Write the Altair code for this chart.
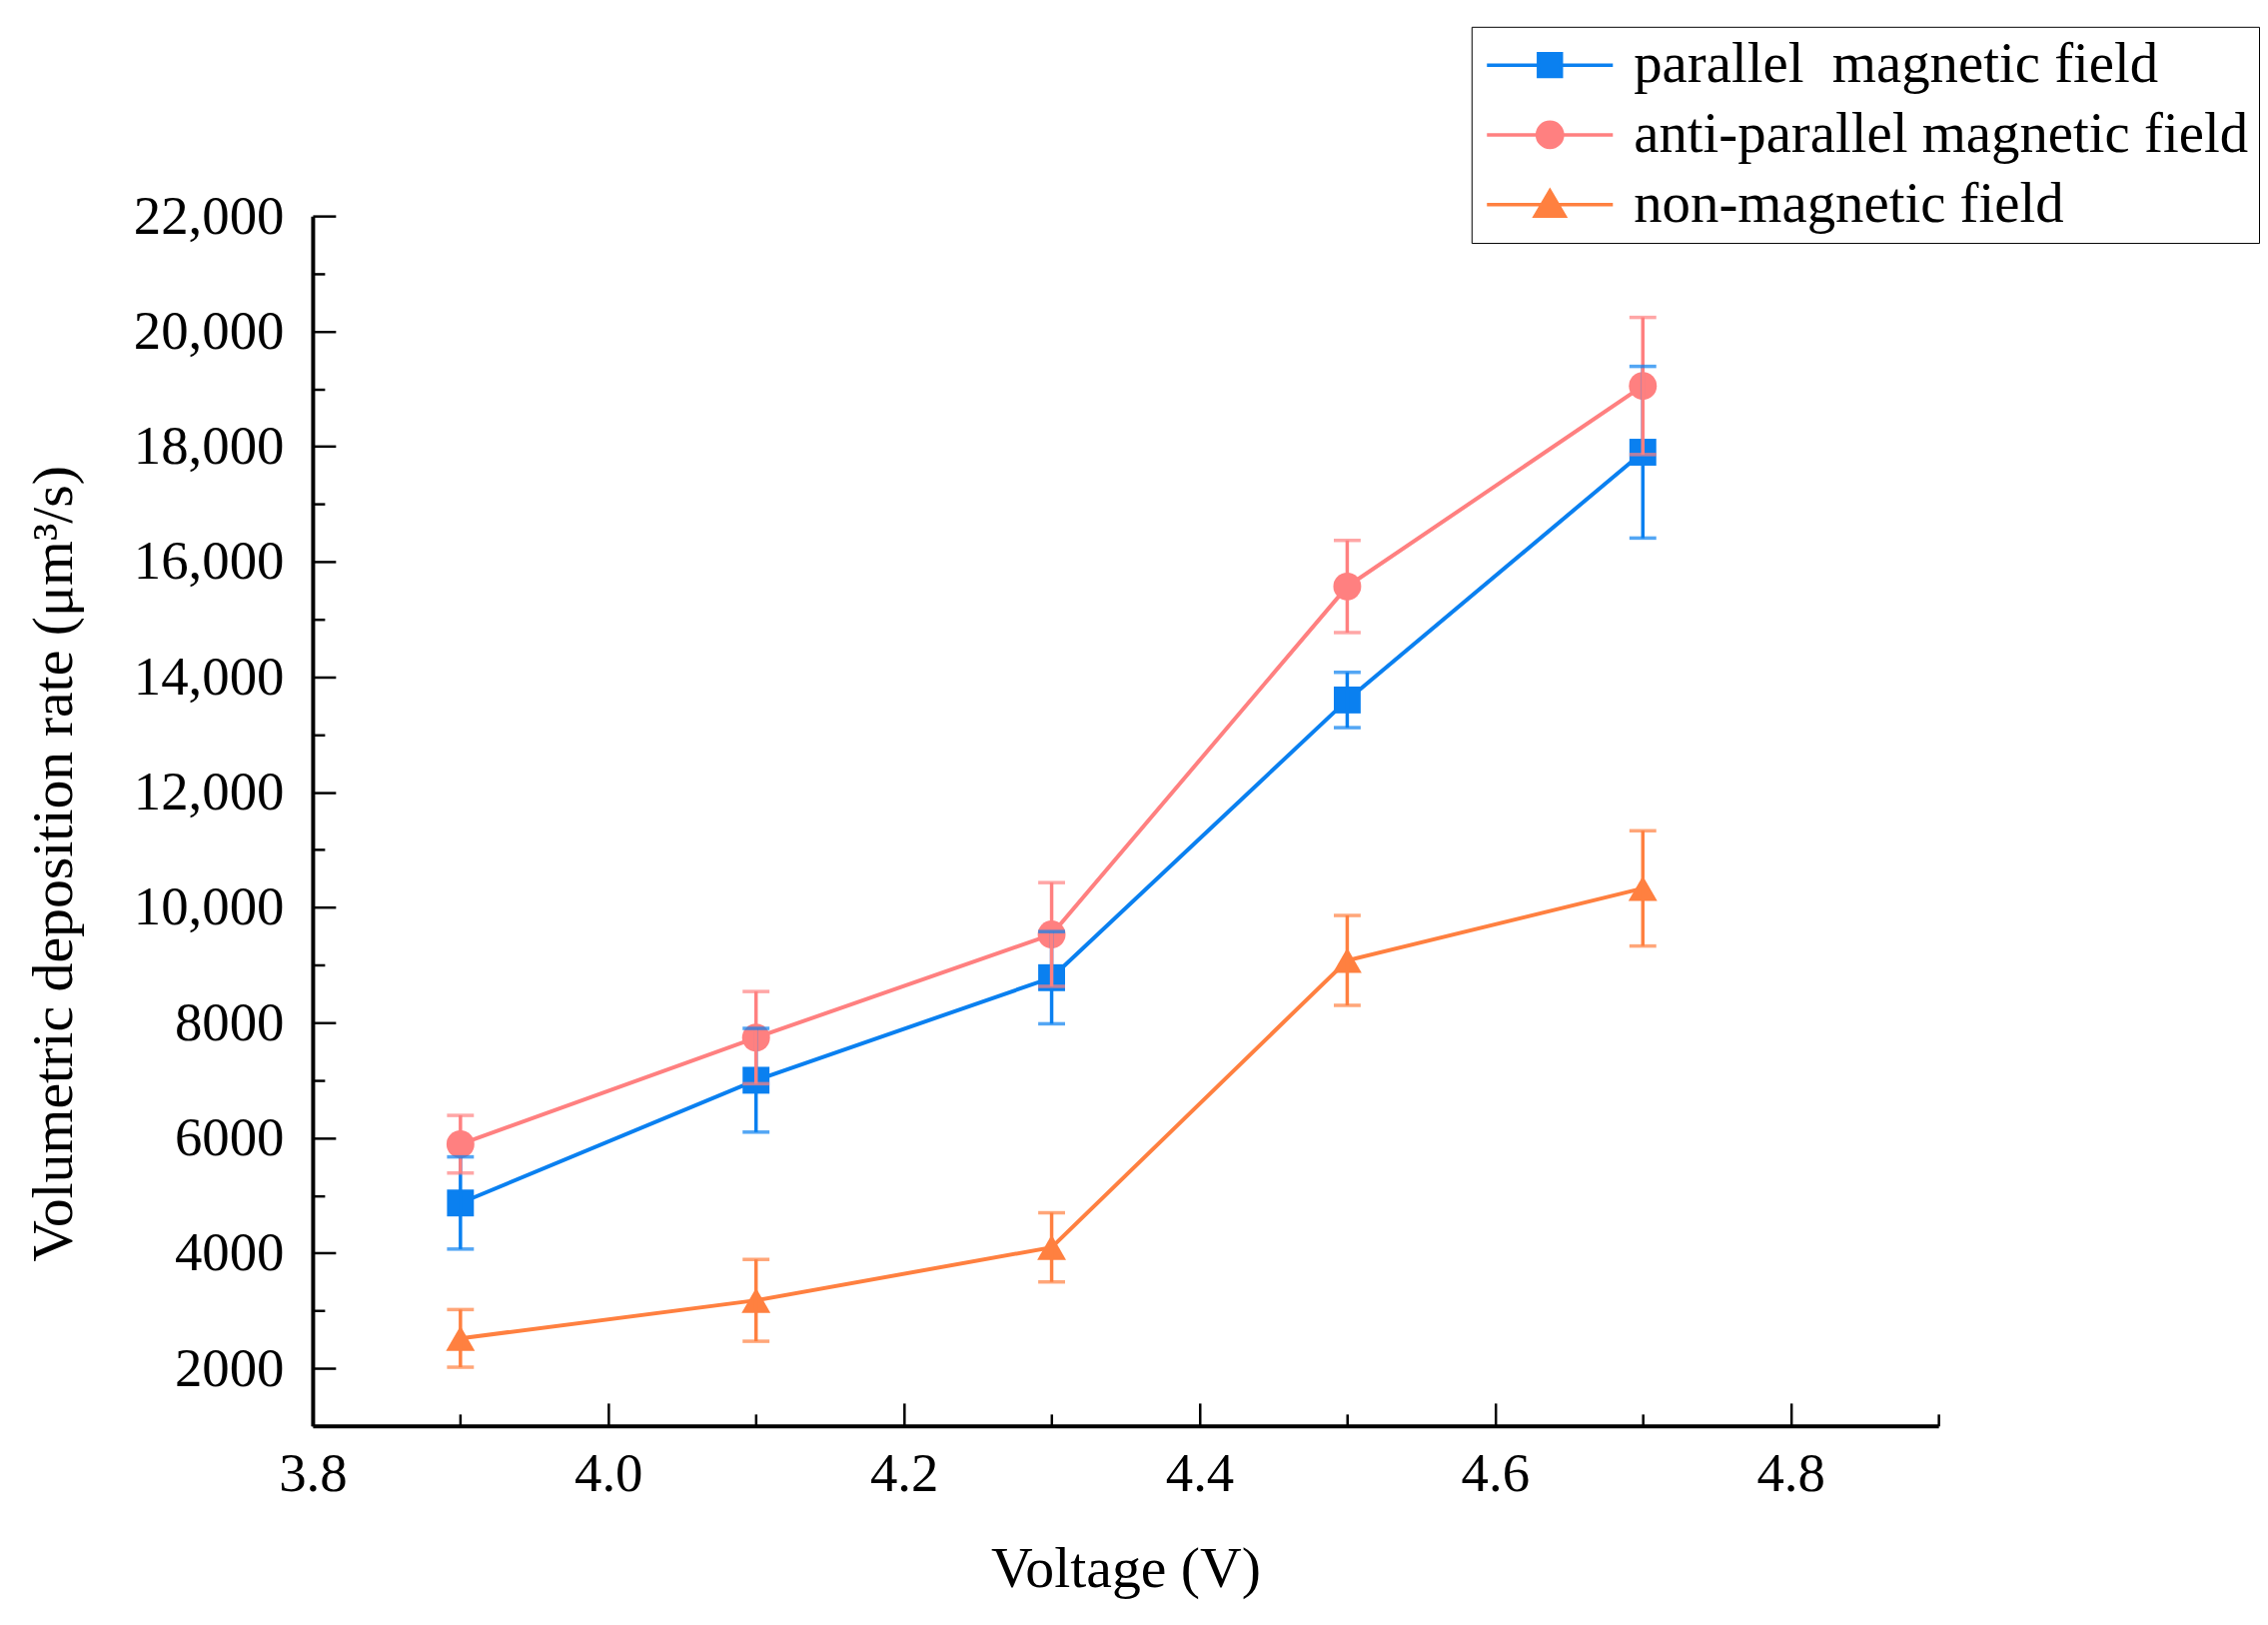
import pandas as pd
import altair as alt

# values
voltage = [3.9, 4.1, 4.3, 4.5, 4.7]
series_names = ["parallel\u00a0 magnetic field", "anti-parallel magnetic field", "non-magnetic field"]
parallel = [4870, 7000, 8780, 13600, 17900]
parallel_err = [800, 900, 800, 480, 1490]
anti_parallel = [5890, 7740, 9530, 15570, 19050]
anti_parallel_err = [500, 800, 900, 800, 1190]
non_magnetic = [2520, 3180, 4100, 9080, 10330]
non_magnetic_err = [500, 710, 600, 780, 1000]

x_major = [3.8, 4.0, 4.2, 4.4, 4.6, 4.8]
x_minor = [3.9, 4.1, 4.3, 4.5, 4.7, 4.9]
y_major = [2000, 4000, 6000, 8000, 10000, 12000, 14000, 16000, 18000, 20000, 22000]
y_minor = [3000, 5000, 7000, 9000, 11000, 13000, 15000, 17000, 19000, 21000]

colors = ["#0a80f0", "#ff8080", "#ff8040"]
shapes = ["square", "circle", "triangle-up"]
sizes = [729, 841, 1225]
# legend glyphs: a short line with the marker on it
legend_paths = [
    "M-2,0H9M2.5,-1H4.5V1H2.5Z",
    "M-2,0H9M2.4,0A1.1,1.1,0,1,1,4.6,0A1.1,1.1,0,1,1,2.4,0Z",
    "M-2,0H9M3.5,-1.2L4.8,1L2.2,1Z",
]

rows = []
for name, vals, errs in [
    (series_names[0], parallel, parallel_err),
    (series_names[1], anti_parallel, anti_parallel_err),
    (series_names[2], non_magnetic, non_magnetic_err),
]:
    for v, y, e in zip(voltage, vals, errs):
        rows.append({"voltage": v, "rate": y, "lo": y - e, "hi": y + e, "series": name})
df = pd.DataFrame(rows)

x_scale = alt.Scale(domain=[3.8, 4.9], nice=False, zero=False)
y_scale = alt.Scale(domain=[1000, 22000], nice=False, zero=False)
color_scale = alt.Scale(domain=series_names, range=colors)

legend = alt.Legend(
    title=None, orient="none", legendX=1164, legendY=-190,
    strokeColor="black", padding=10, rowPadding=12,
    labelFont="Liberation Serif", labelFontSize=57, labelColor="black",
    labelLimit=1000, labelOffset=96,
    symbolSize=529, symbolStrokeWidth=3.5, symbolOpacity=1,
)

y_labels = "datum.value >= 10000 ? format(datum.value, ',') : format(datum.value, 'd')"

base = alt.Chart(df)

lines = base.mark_line(strokeWidth=4).encode(
    x=alt.X("voltage:Q", scale=x_scale, axis=alt.Axis(
        values=x_major, format=".1f", ticks=False, tickSize=0, labelPadding=22,
        labelFlush=False, labelOverlap=False,
        title="Voltage (V)", titleBaseline="alphabetic", titleY=161, orient="bottom")),
    y=alt.Y("rate:Q", scale=y_scale, axis=alt.Axis(
        values=y_major, labelExpr=y_labels, ticks=False, tickSize=0, labelPadding=29,
        labelFlush=False, labelOverlap=False,
        title="Volumetric deposition rate (μm³/s)", titleBaseline="alphabetic",
        titleX=-242, titleY=650, orient="left")),
    color=alt.Color("series:N", scale=color_scale, legend=None),
)

points = base.mark_point(filled=True, opacity=1).encode(
    x=alt.X("voltage:Q", scale=x_scale, axis=None),
    y=alt.Y("rate:Q", scale=y_scale, axis=None),
    color=alt.Color("series:N", scale=color_scale, legend=None),
    shape=alt.Shape("series:N", scale=alt.Scale(domain=series_names, range=shapes), legend=None),
    size=alt.Size("series:N", scale=alt.Scale(domain=series_names, range=sizes), legend=None),
)

bars = base.mark_rule(strokeWidth=3.5).encode(
    x=alt.X("voltage:Q", scale=x_scale, axis=alt.Axis(
        values=x_major, labels=False, domain=False, tickSize=23, offset=-23,
        title=None, orient="bottom")),
    y=alt.Y("lo:Q", scale=y_scale, axis=alt.Axis(
        values=y_major, labels=False, domain=False, tickSize=23, offset=-23,
        title=None, orient="left")),
    y2="hi:Q",
    color=alt.Color("series:N", scale=color_scale, legend=None),
)

caps_lo = base.mark_tick(orient="horizontal", size=27, thickness=3.5).encode(
    x=alt.X("voltage:Q", scale=x_scale, axis=alt.Axis(
        values=x_minor, labels=False, domain=False, tickSize=12, offset=-12,
        title=None, orient="bottom")),
    y=alt.Y("lo:Q", scale=y_scale, axis=alt.Axis(
        values=y_minor, labels=False, domain=False, tickSize=12, offset=-12,
        title=None, orient="left")),
    color=alt.Color("series:N", scale=color_scale, legend=None),
)

caps_hi = base.mark_tick(orient="horizontal", size=27, thickness=3.5).encode(
    x=alt.X("voltage:Q", scale=x_scale, axis=None),
    y=alt.Y("hi:Q", scale=y_scale, axis=None),
    color=alt.Color("series:N", scale=color_scale, legend=None),
)

# legend only: no rows drawn, the scales keep their explicit domains
legend_layer = base.transform_filter("false").mark_point(filled=True, opacity=1).encode(
    x=alt.X("voltage:Q", scale=x_scale, axis=None),
    y=alt.Y("rate:Q", scale=y_scale, axis=None),
    color=alt.Color("series:N", scale=color_scale, legend=legend),
    stroke=alt.Stroke("series:N", scale=color_scale, legend=legend),
    shape=alt.Shape("series:N", scale=alt.Scale(domain=series_names, range=legend_paths), legend=legend),
)

chart = alt.layer(lines, points, bars, caps_lo, caps_hi, legend_layer).resolve_axis(
    x="independent", y="independent"
).resolve_scale(
    color="independent", shape="independent", stroke="independent"
).properties(
    width=1633, height=1215,
    autosize=alt.AutoSizeParams(type="none"),
    padding={"left": 306, "top": 206, "right": 323, "bottom": 197},
    background="white",
).configure_view(
    stroke=None
).configure_axis(
    grid=False, domainColor="black", domainWidth=4, tickColor="black", tickWidth=2.5,
    labelFont="Liberation Serif", labelFontSize=55, labelColor="black",
    titleFont="Liberation Serif", titleFontSize=58, titleFontWeight="normal", titleColor="black",
)

chart.save("out.html", embed_options={"renderer": "svg", "actions": False})
